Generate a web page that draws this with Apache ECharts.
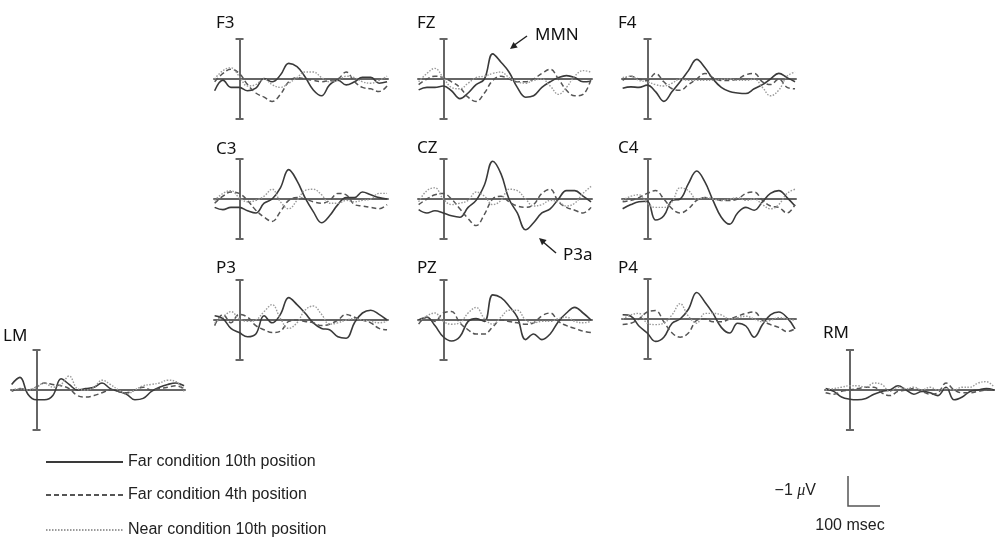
<!DOCTYPE html>
<html>
<head>
<meta charset="utf-8">
<script src="https://cdn.jsdelivr.net/npm/echarts@6/dist/echarts.min.js"></script>
<style>
html, body { margin: 0; padding: 0; background: #fff; }
#main { width: 995px; height: 546px; }
</style>
</head>
<body>
<div id="main"></div>
<script>
// time in msec, amplitude in µV (negative plotted up)
const times = [-78, -52, -27, -1, 25, 51, 77, 102, 128, 154, 180, 205, 231, 257, 282, 308, 334, 360, 385, 411, 437, 462];
const conditions = ['Far condition 10th position', 'Far condition 4th position', 'Near condition 10th position'];

// each electrode: [far 10th, far 4th, near 10th]
const F3 = [
    [0.42, 0.04, 0.3, 0.3, 0.42, 0.33, -0.02, 0.1, -0.14, -0.56, -0.44, -0.08, 0.39, 0.6, 0.21, 0.04, 0.21, 0.1, -0.06, -0.06, 0.15, 0.1],
    [0.1, -0.2, -0.35, -0.2, 0.2, 0.5, 0.65, 0.8, 0.55, 0.1, -0.05, 0.0, 0.05, 0.1, 0.05, 0.0, -0.25, 0.1, 0.3, 0.35, 0.45, 0.25],
    [0.0, -0.3, -0.4, -0.1, 0.25, 0.2, 0.0, 0.2, 0.3, 0.15, -0.05, -0.25, -0.25, -0.05, 0.1, 0.05, -0.1, -0.05, 0.1, 0.15, 0.05, -0.1]
];
const FZ = [
    [0.39, 0.3, 0.3, 0.25, 0.42, 0.7, 0.5, 0.2, 0.0, -0.9, -0.6, -0.25, 0.3, 0.65, 0.6, 0.3, 0.1, -0.05, -0.12, -0.05, 0.1, 0.08],
    [0.2, 0.0, -0.1, -0.05, 0.1, 0.3, 0.65, 0.8, 0.5, 0.05, -0.1, 0.0, 0.1, 0.1, 0.0, -0.2, -0.35, 0.0, 0.4, 0.6, 0.55, 0.0],
    [0.1, -0.2, -0.38, -0.05, 0.3, 0.35, 0.15, -0.05, -0.1, -0.2, -0.25, -0.05, 0.1, 0.15, 0.05, 0.0, 0.25, 0.55, 0.3, -0.1, -0.3, -0.25]
];
const F4 = [
    [0.33, 0.28, 0.3, 0.22, 0.45, 0.8, 0.45, 0.1, -0.3, -0.7, -0.4, 0.0, 0.3, 0.45, 0.5, 0.52, 0.35, 0.2, 0.0, -0.2, -0.05, 0.1],
    [0.05, -0.1, 0.0, 0.05, -0.2, 0.1, 0.35, 0.4, 0.2, 0.0, -0.2, -0.05, 0.05, 0.05, 0.0, -0.15, -0.2, 0.1, 0.2, 0.0, 0.3, 0.35],
    [-0.05, -0.1, 0.05, 0.1, 0.2, 0.25, 0.15, 0.0, 0.05, 0.05, 0.05, 0.05, 0.02, 0.0, 0.05, 0.05, 0.0, 0.3, 0.6, 0.4, -0.1, -0.25]
];
const C3 = [
    [0.3, 0.38, 0.3, 0.3, 0.42, 0.5, 0.15, 0.0, -0.4, -1.05, -0.65, -0.05, 0.45, 0.85, 0.6, 0.2, -0.05, -0.05, -0.25, -0.15, -0.05, 0.0],
    [0.15, -0.1, -0.25, -0.2, 0.05, 0.4, 0.65, 0.8, 0.45, 0.05, -0.05, 0.0, 0.1, 0.15, 0.05, -0.2, -0.15, 0.2, 0.25, 0.3, 0.35, 0.2],
    [0.05, -0.2, -0.3, -0.05, 0.1, 0.05, -0.1, -0.35, 0.1, 0.35, 0.05, -0.3, -0.35, -0.15, 0.15, 0.15, 0.05, 0.1, 0.05, 0.0, -0.2, -0.2]
];
const CZ = [
    [0.38, 0.5, 0.42, 0.5, 0.6, 0.65, 0.3, 0.05, -0.5, -1.35, -0.9, 0.0, 0.5, 1.1, 0.85, 0.5, 0.35, 0.0, -0.3, -0.3, -0.1, 0.1],
    [0.2, 0.0, -0.15, -0.2, 0.0, 0.35, 0.7, 0.95, 0.55, 0.0, -0.1, 0.1, 0.25, 0.3, 0.2, -0.2, -0.35, 0.1, 0.3, 0.4, 0.5, 0.3],
    [0.1, -0.3, -0.4, 0.0, 0.2, 0.15, 0.05, -0.25, -0.1, 0.2, 0.05, -0.35, -0.3, 0.0, 0.25, 0.2, 0.05, 0.1, 0.25, 0.15, -0.2, -0.45]
];
const C4 = [
    [0.35, 0.2, 0.1, 0.08, 0.75, 0.6, 0.05, 0.0, -0.55, -1.0, -0.6, 0.05, 0.65, 0.9, 0.5, 0.3, 0.4, 0.1, -0.2, -0.3, -0.05, 0.25],
    [0.1, 0.05, -0.05, -0.2, -0.3, 0.0, 0.35, 0.5, 0.35, 0.05, -0.05, 0.0, 0.05, 0.05, 0.0, -0.2, -0.25, 0.05, 0.25, 0.3, 0.5, 0.2],
    [0.05, -0.1, -0.15, 0.15, 0.3, 0.3, 0.1, -0.4, -0.3, 0.0, -0.05, 0.0, 0.05, 0.0, -0.05, 0.05, 0.0, 0.2, 0.35, 0.2, -0.2, -0.35]
];
const P3 = [
    [-0.15, -0.05, 0.3, 0.45, 0.6, 0.5, -0.15, 0.1, -0.2, -0.8, -0.55, -0.25, 0.1, 0.3, 0.35, 0.6, 0.65, 0.1, -0.25, -0.35, -0.2, 0.0],
    [0.2, -0.2, 0.1, -0.2, -0.1, 0.2, 0.35, 0.45, 0.4, 0.05, 0.0, 0.05, 0.1, 0.2, 0.15, 0.0, -0.2, -0.1, 0.0, 0.1, 0.3, 0.35],
    [0.1, -0.1, -0.3, -0.05, 0.05, 0.0, -0.3, -0.55, -0.05, 0.3, 0.1, -0.35, -0.5, -0.2, 0.15, 0.1, 0.0, -0.05, 0.0, 0.05, 0.1, 0.05]
];
const PZ = [
    [0.0, -0.1, 0.2, 0.6, 0.75, 0.6, 0.05, -0.05, 0.05, -0.9, -0.8, -0.5, -0.1, 0.7, 0.5, 0.7, 0.5, 0.05, -0.25, -0.45, -0.25, 0.0],
    [0.15, -0.1, 0.05, -0.25, -0.3, 0.1, 0.35, 0.5, 0.5, 0.25, 0.0, 0.05, 0.1, 0.15, 0.1, -0.15, -0.25, 0.05, 0.2, 0.3, 0.4, 0.45],
    [0.05, -0.15, -0.25, 0.05, 0.15, 0.1, -0.25, -0.45, -0.05, 0.15, -0.1, -0.35, -0.35, 0.0, 0.1, 0.05, 0.05, -0.05, -0.1, 0.05, 0.1, 0.05]
];
const P4 = [
    [-0.15, -0.1, 0.25, 0.5, 0.8, 0.65, 0.15, 0.0, -0.35, -0.95, -0.6, -0.2, 0.3, 0.5, 0.15, 0.25, 0.65, 0.2, -0.15, -0.25, -0.05, 0.35],
    [0.2, 0.15, 0.0, -0.25, -0.3, 0.1, 0.5, 0.65, 0.5, 0.05, 0.0, 0.1, 0.1, 0.0, -0.1, -0.2, -0.25, 0.05, 0.2, 0.3, 0.45, 0.35],
    [0.0, -0.15, -0.2, 0.15, 0.2, 0.15, -0.15, -0.55, -0.1, 0.15, -0.2, -0.2, -0.15, 0.0, -0.05, -0.1, 0.0, 0.1, 0.05, -0.05, 0.0, 0.05]
];
const LM = [
    [-0.2, -0.45, 0.15, 0.35, 0.35, 0.2, -0.4, -0.2, 0.0, -0.05, -0.1, -0.25, -0.05, 0.05, 0.15, 0.35, 0.3, 0.05, -0.1, -0.2, -0.25, -0.15],
    [0.05, -0.05, 0.0, -0.1, -0.25, -0.2, -0.15, -0.05, 0.2, 0.25, 0.2, 0.1, 0.0, 0.05, 0.1, 0.0, -0.1, 0.0, -0.05, -0.1, -0.15, -0.05],
    [0.0, -0.05, 0.0, -0.1, -0.25, -0.1, -0.2, -0.5, -0.05, 0.0, -0.1, -0.35, -0.2, 0.0, 0.15, 0.0, -0.15, -0.2, -0.25, -0.35, -0.3, 0.05]
];
const RM = [
    [-0.05, 0.05, 0.25, 0.33, 0.35, 0.3, 0.15, 0.05, 0.0, -0.15, 0.0, 0.15, 0.05, 0.1, 0.2, -0.1, 0.35, 0.25, 0.05, 0.0, -0.05, 0.0],
    [0.1, 0.15, 0.05, 0.0, -0.05, -0.1, -0.1, 0.1, 0.2, 0.05, 0.0, -0.05, 0.05, 0.15, 0.1, -0.25, 0.0, 0.1, 0.1, 0.05, 0.0, 0.0],
    [0.0, -0.05, -0.1, -0.15, -0.15, -0.1, -0.25, -0.2, 0.05, -0.1, -0.05, -0.1, 0.0, -0.1, 0.0, -0.05, 0.0, -0.1, -0.1, -0.25, -0.3, -0.1]
];

// pixel position of each panel's origin (stimulus onset on the baseline)
const panels = [
    { name: 'F3', data: F3, x: 239, y: 79 },
    { name: 'FZ', data: FZ, x: 443, y: 79 },
    { name: 'F4', data: F4, x: 647, y: 79 },
    { name: 'C3', data: C3, x: 239, y: 199 },
    { name: 'CZ', data: CZ, x: 443, y: 199 },
    { name: 'C4', data: C4, x: 647, y: 199 },
    { name: 'P3', data: P3, x: 239, y: 320 },
    { name: 'PZ', data: PZ, x: 443, y: 320 },
    { name: 'P4', data: P4, x: 647, y: 319 },
    { name: 'LM', data: LM, x: 36, y: 390 },
    { name: 'RM', data: RM, x: 850, y: 390 }
];
const labelPos = {
    F3: [216, 23], FZ: [417, 23], F4: [618, 23],
    C3: [216, 149], CZ: [417, 148], C4: [618, 148],
    P3: [216, 268], PZ: [417, 268], P4: [618, 268],
    LM: [3, 336], RM: [823, 333]
};
const legendTops = [454, 487, 522];

const lineStyles = [
    { color: '#3a3a3a', width: 1.6, type: 'solid' },
    { color: '#555', width: 1.5, type: [5, 3] },
    { color: '#9a9a9a', width: 1.4, type: [1.5, 1.5] }
];
const labelFont = '17px "Noto Sans", sans-serif';
const smallFont = '16px "Liberation Sans", sans-serif';

var chart = echarts.init(document.getElementById('main'));

let grids = [], xAxes = [], yAxes = [], series = [], graphics = [];
panels.forEach((p, i) => {
    grids.push({ left: p.x - 25, top: p.y - 40, width: 174, height: 80 });
    xAxes.push({
        gridIndex: i, type: 'value', min: -80, max: 465,
        axisLine: { show: true, onZero: true, lineStyle: { color: '#666', width: 2 } },
        axisTick: { show: false }, axisLabel: { show: false }, splitLine: { show: false }
    });
    yAxes.push({
        gridIndex: i, type: 'value', inverse: true, min: -1.43, max: 1.43,
        axisLine: {
            show: true, onZero: true,
            symbol: ['rect', 'rect'], symbolSize: [8, 2],
            lineStyle: { color: '#666', width: 2 }
        },
        axisTick: { show: false }, axisLabel: { show: false }, splitLine: { show: false }
    });
    p.data.forEach((vals, k) => {
        series.push({
            name: conditions[k],
            type: 'line',
            xAxisIndex: i,
            yAxisIndex: i,
            data: times.map((t, j) => [t, vals[j]]),
            symbol: 'none',
            smooth: 0.4,
            silent: true,
            color: lineStyles[k].color,
            lineStyle: lineStyles[k]
        });
    });
    let lp = labelPos[p.name];
    graphics.push({
        type: 'text', x: lp[0], y: lp[1],
        style: { text: p.name, font: labelFont, fill: '#111', textVerticalAlign: 'middle', verticalAlign: 'middle' }
    });
});

// component annotations
graphics.push(
    { type: 'text', x: 535, y: 35, style: { text: 'MMN', font: labelFont, fill: '#111', textVerticalAlign: 'middle', verticalAlign: 'middle' } },
    { type: 'line', shape: { x1: 527, y1: 36, x2: 513, y2: 46 }, style: { stroke: '#222', lineWidth: 1.5 } },
    { type: 'polygon', shape: { points: [[510, 49], [517.7, 47.6], [513.5, 42]] }, style: { fill: '#222' } },
    { type: 'text', x: 563, y: 255, style: { text: 'P3a', font: labelFont, fill: '#111', textVerticalAlign: 'middle', verticalAlign: 'middle' } },
    { type: 'line', shape: { x1: 556, y1: 253, x2: 542, y2: 241 }, style: { stroke: '#222', lineWidth: 1.5 } },
    { type: 'polygon', shape: { points: [[539, 238], [546.6, 240], [542, 245.2]] }, style: { fill: '#222' } }
);

// calibration bar
graphics.push(
    { type: 'polyline', shape: { points: [[848, 476], [848, 506], [880, 506]] }, style: { stroke: '#555', lineWidth: 1.5, fill: null } },
    {
        type: 'text', x: 816, y: 491,
        style: {
            text: '\u22121 {i|\u03bc}V',
            rich: { i: { fontStyle: 'italic', font: 'italic 16px "Liberation Serif", serif' } },
            font: smallFont,
            fill: '#222', textAlign: 'right', align: 'right', textVerticalAlign: 'middle', verticalAlign: 'middle'
        }
    },
    {
        type: 'text', x: 850, y: 526,
        style: {
            text: '100 msec',
            font: smallFont,
            fill: '#222', textAlign: 'center', align: 'center', textVerticalAlign: 'middle', verticalAlign: 'middle'
        }
    }
);

let option = {
    animation: false,
    backgroundColor: '#fff',
    legend: conditions.map((c, k) => ({
        data: [c],
        left: 45,
        top: legendTops[k],
        padding: 0,
        itemWidth: 77,
        itemHeight: 16,
        selectedMode: false,
        itemStyle: { opacity: 0 },
        textStyle: { fontSize: 16, color: '#222', fontFamily: '"Liberation Sans", sans-serif' }
    })),
    grid: grids,
    xAxis: xAxes,
    yAxis: yAxes,
    series: series,
    graphic: graphics
};
chart.setOption(option);
</script>
</body>
</html>
